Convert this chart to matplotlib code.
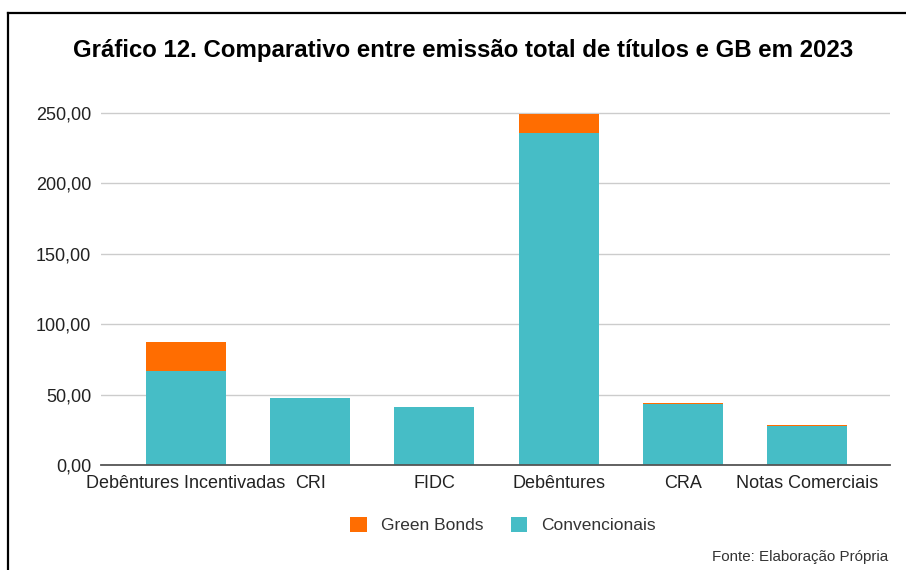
import matplotlib.pyplot as plt
from matplotlib.patches import Patch
from matplotlib.lines import Line2D
from matplotlib.ticker import FuncFormatter

plt.rcParams['font.family'] = ['Liberation Sans', 'DejaVu Sans']

categorias = ['Debêntures Incentivadas', 'CRI', 'FIDC', 'Debêntures', 'CRA', 'Notas Comerciais']
convencionais = [66.8, 47.4, 41.2, 236.0, 43.0, 27.5]
green_bonds = [20.6, 0.0, 0.0, 13.1, 1.0, 0.7]
yticks = [0, 50, 100, 150, 200, 250]

teal = '#46BDC6'
laranja = '#FF6D01'
texto = '#222222'

fig = plt.figure(figsize=(9.06, 5.70), dpi=100)
W, H = 906, 570

# eixo: x de 101 a 890 px, zero em y=465, 1.408 px por unidade
ymax = 255
top_px = 465 - ymax * 1.408
ax = fig.add_axes([101 / W, 1 - 465 / H, 789 / W, (465 - top_px) / H])

x = list(range(len(categorias)))
ax.bar(x, convencionais, width=0.644, color=teal, zorder=3)
ax.bar(x, green_bonds, width=0.644, bottom=convencionais, color=laranja, zorder=3)

ax.set_xlim(-0.684, 5.668)
ax.set_ylim(0, ymax)
ax.set_yticks(yticks)
ax.yaxis.set_major_formatter(FuncFormatter(lambda v, p: f'{v:.2f}'.replace('.', ',')))
ax.set_xticks(x)
ax.set_xticklabels(categorias)
ax.tick_params(axis='both', length=0, labelsize=13, colors=texto)
ax.tick_params(axis='x', pad=7)
ax.tick_params(axis='y', pad=7)
ax.grid(axis='y', color='#cccccc', linewidth=1, zorder=0)
for s in ['top', 'right', 'left']:
    ax.spines[s].set_visible(False)
ax.spines['bottom'].set_color('#555555')
ax.spines['bottom'].set_linewidth(1.3)
ax.spines['bottom'].set_zorder(4)

fig.text(463 / W, 1 - 50 / H, 'Gráfico 12. Comparativo entre emissão total de títulos e GB em 2023',
         ha='center', va='center', fontsize=17.3, fontweight='bold', color='#000000')

handles = [Patch(facecolor=laranja, label='Green Bonds'), Patch(facecolor=teal, label='Convencionais')]
fig.legend(handles=handles, loc='center', bbox_to_anchor=(503 / W, 1 - 525 / H), ncol=2,
           frameon=False, fontsize=12.5, handlelength=0.95, handleheight=0.95,
           handletextpad=0.8, columnspacing=1.6, labelcolor='#333333')

fig.text(888 / W, 1 - 557 / H, 'Fonte: Elaboração Própria', ha='right', va='center',
         fontsize=10.9, color='#333333')

# moldura
fig.add_artist(Line2D([8 / W, 8 / W], [0, 1 - 13 / H], color='black', linewidth=1.6))
fig.add_artist(Line2D([8 / W, 1], [1 - 13 / H, 1 - 13 / H], color='black', linewidth=1.6))

fig.savefig('out.png', dpi=100, facecolor='white')
